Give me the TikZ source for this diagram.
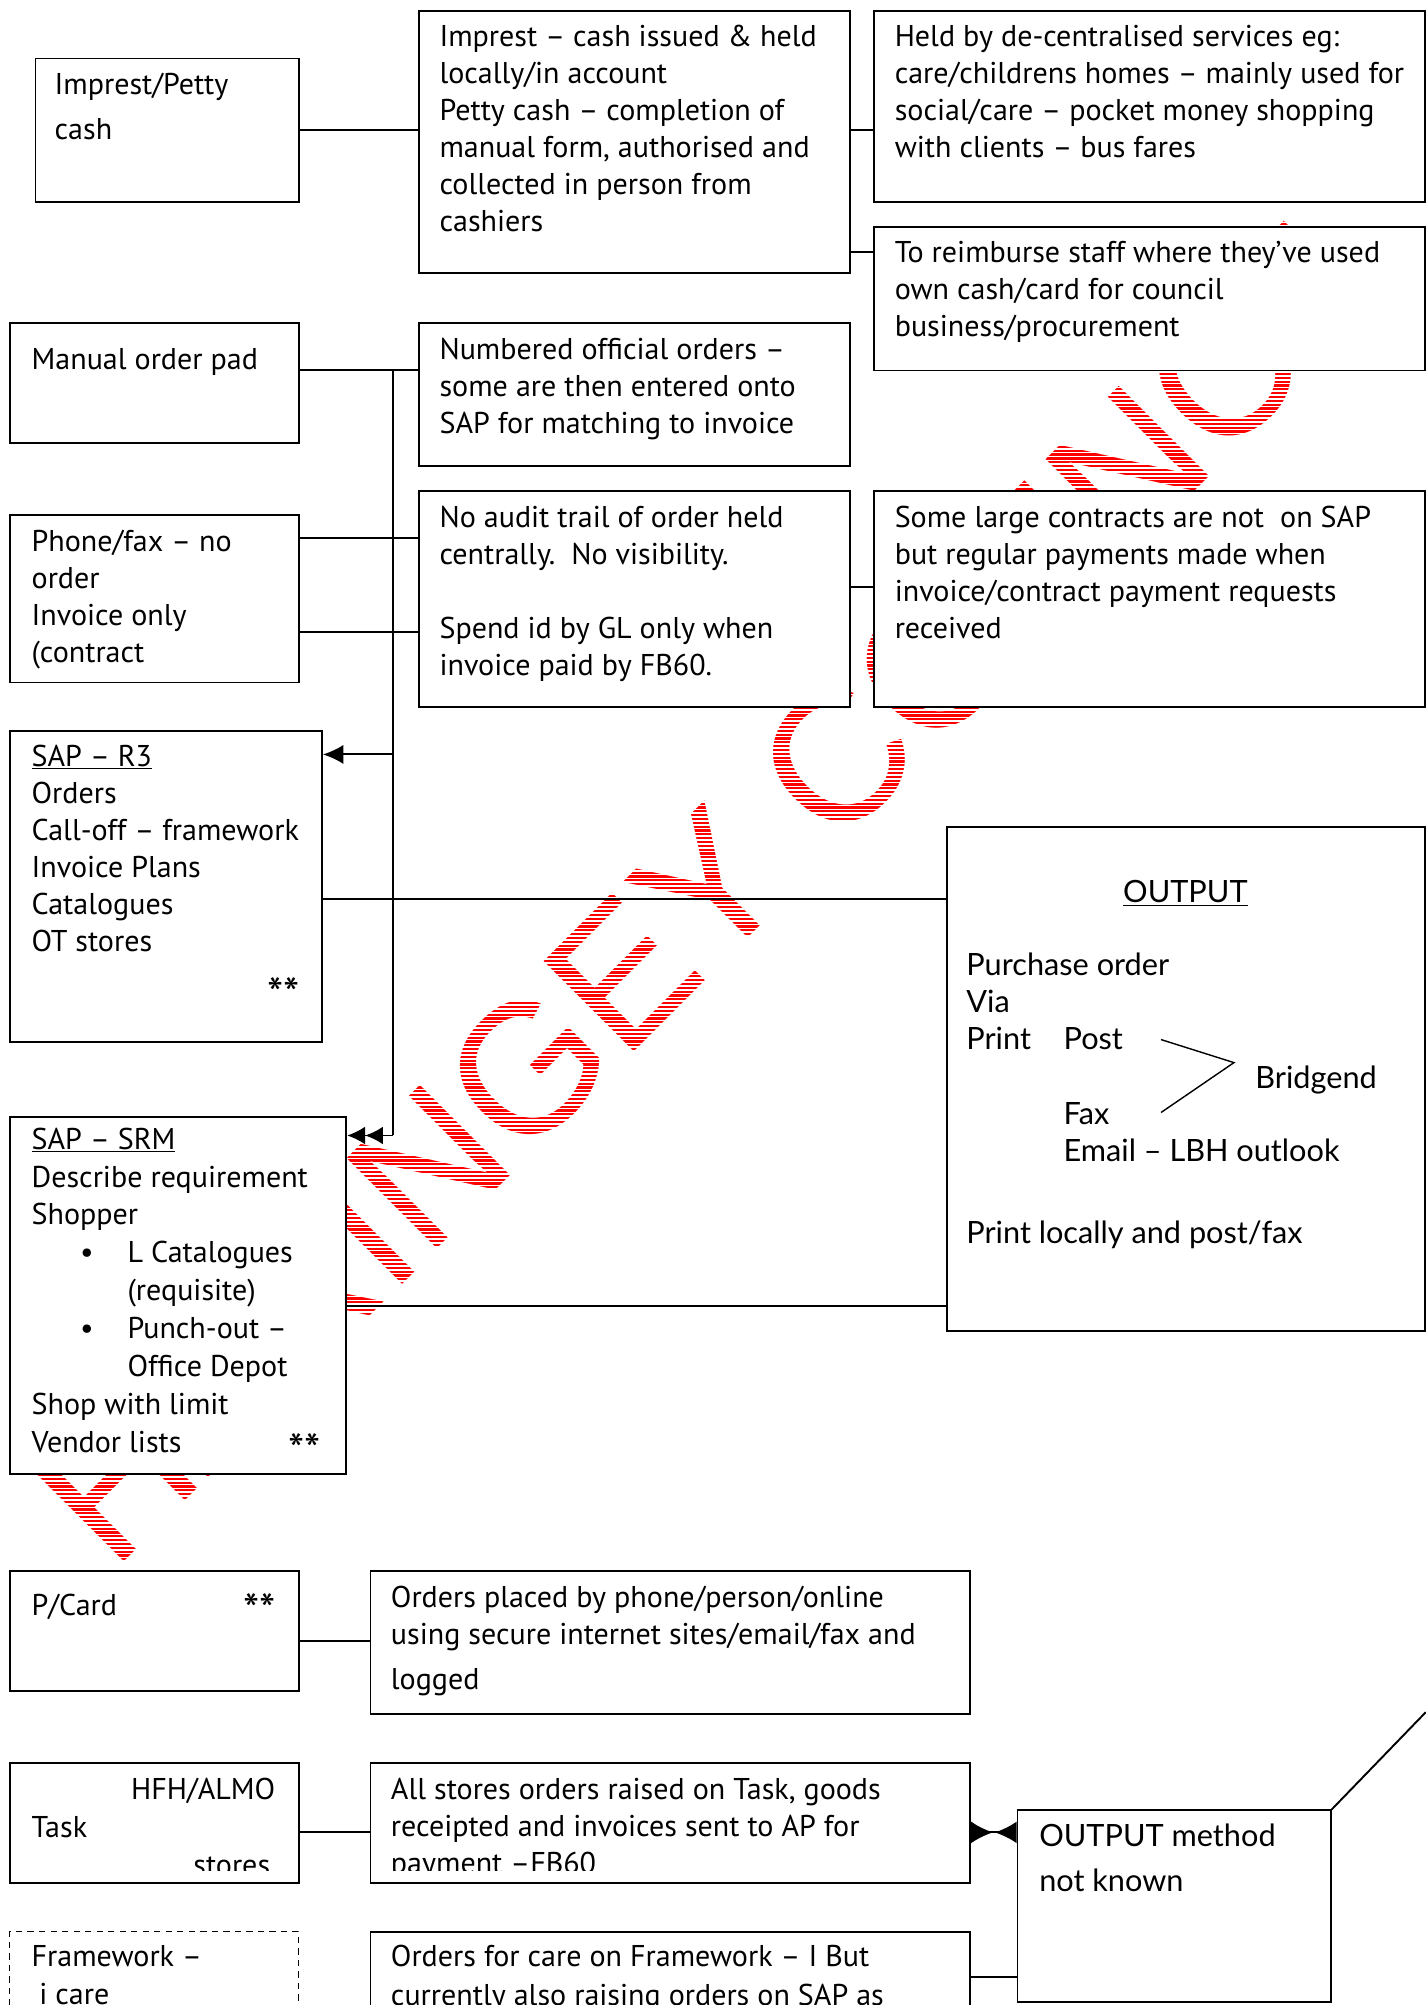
\documentclass[tikz,border=0pt]{standalone}
\usepackage{fontspec}
\setmainfont{PT Sans}
\newfontfamily\largo{Lato}
\newfontfamily\timbro{Liberation Sans}
\usetikzlibrary{
	positioning,    % posizionamento relativo
	arrows.meta,    % punte Latex
	calc
}

\begin{document}
\begin{tikzpicture}[x=1pt, y=-1pt, line width=1.5pt,
		box/.style={draw, fill=white, anchor=north west, inner sep=0pt},
		txt/.style={anchor=north west, inner sep=0pt, align=left, font=\fontsize{23.5}{29}\selectfont, execute at begin node=\strut},
		txtw/.style={txt, font=\largo\fontsize{24}{29}\selectfont},
		stelle/.style={anchor=base, inner sep=0pt, font=\fontsize{23.5}{29}\selectfont},
		asterischi/.style={anchor=base, inner sep=0pt, font=\fontsize{36}{36}\selectfont},
		timbro/.style={font=\timbro\fontsize{145}{145}\selectfont, text=red, rotate=45, inner sep=0pt}]
		\useasboundingbox (0,0) rectangle (1115,1568);
		
		% --- Filigrana (tratteggio con righe bianche) ---
		\node[timbro] (filigrana) at (566,682) {HARINGEY COUNCIL};
		\foreach \y in {0,3,...,1569}
			\draw[white, line width=1.3pt] (0,\y) -- (1115,\y);
		
		% --- Riquadri ---
		\node[box, minimum width=206, minimum height=112] (impcash) at (27,45) {};
		\node[box, minimum width=337, minimum height=205] (imprtxt) at (327,8) {};
		\node[box, minimum width=431, minimum height=149] (held) at (683,8) {};
		\node[box, minimum width=431, minimum height=112] (reimb) at (683,177) {};
		\node[box, minimum width=226, minimum height=94] (manual) at (7,252) {};
		\node[box, minimum width=337, minimum height=112] (numbered) at (327,252) {};
		\node[box, minimum width=226, minimum height=131] (phone) at (7,402) {};
		\node[box, minimum width=337, minimum height=169] (noaudit) at (327,383) {};
		\node[box, minimum width=431, minimum height=169] (large) at (683,383) {};
		\node[box, minimum width=244, minimum height=243] (r3) at (7,571) {};
		\node[box, minimum width=374, minimum height=394] (output) at (740,646) {};
		\node[box, minimum width=263, minimum height=279] (srm) at (7,873) {};
		\node[box, minimum width=226, minimum height=94] (pcard) at (7,1228) {};
		\node[box, minimum width=469, minimum height=112] (placed) at (289,1228) {};
		\node[box, minimum width=226, minimum height=94] (task) at (7,1378) {};
		\node[box, minimum width=469, minimum height=94] (stores) at (289,1378) {};
		\node[box, line width=1pt, dash pattern=on 5pt off 4pt, minimum width=226, minimum height=80] (frame) at (7,1510) {};
		\node[box, minimum width=469, minimum height=80] (care) at (289,1510) {};
		\node[box, minimum width=245, minimum height=150] (outmeth) at (795,1415) {};
		
		% --- Collegamenti ---
		\draw (impcash.east) -- (impcash.east -| imprtxt.west);
		\coordinate (i1) at (imprtxt.east |- impcash.east);
		\draw (i1) -- (i1 -| held.west);
		\coordinate (i2) at ([yshift=-20pt]reimb.north west);
		\draw (i2) -- (i2 -| imprtxt.east);
		
		% linea verticale comune
		\coordinate (bustop) at (307,289);
		\coordinate (busend) at (307,888);
		\draw (bustop -| manual.east) -- (bustop -| numbered.west);
		\draw (bustop) -- (busend);
		\coordinate (p1) at ([yshift=-19pt]phone.north east);
		\coordinate (p2) at ([yshift=-92pt]phone.north east);
		\draw (p1) -- (p1 -| noaudit.west);
		\draw (p2) -- (p2 -| noaudit.west);
		\coordinate (n1) at ([yshift=9pt]noaudit.east);
		\draw (n1) -- (n1 -| large.west);
		
		% frecce verso SAP
		\coordinate (r3in) at ([yshift=-19pt]r3.north east);
		\draw[-{Latex[length=16pt,width=15pt]}] (r3in -| bustop) -- (r3in);
		\draw[-{Latex[length=14pt,width=14pt] Latex[length=14pt,width=14pt]}] (busend) -- (busend -| srm.east);
		\coordinate (r3out) at ([yshift=-132pt]r3.north east);
		\draw (r3out) -- (r3out -| output.west);
		\coordinate (srmout) at ([yshift=-148pt]srm.north east);
		\draw (srmout) -- (srmout -| output.west);
		
		% parte bassa
		\coordinate (pc) at ([yshift=-55pt]pcard.north east);
		\draw (pc) -- (pc -| placed.west);
		\coordinate (tk) at ([yshift=-55pt]task.north east);
		\draw (tk) -- (tk -| stores.west);
		\draw[{Latex[reversed,length=17pt,width=17pt]}-{Latex[reversed,length=17pt,width=17pt]}] (tk -| stores.east) -- (tk -| outmeth.west);
		\coordinate (cr) at ([yshift=-36pt]care.north east);
		\draw (cr) -- (cr -| outmeth.west);
		\coordinate (diag) at (1115,1339);
		\draw (outmeth.north east) -- (diag);
		
		% parentesi Post/Fax
		\draw[line width=1.1pt] (908,813) -- (965,831) -- (908,870);
		
		% --- Testi ---
		\node[txt] (impcash-t) at (42,56.7) {Imprest/Petty\\[6pt]cash};
		\node[txt] (imprtxt-t) at (343,18.7) {Imprest – cash issued \& held\\locally/in account\\Petty cash – completion of\\manual form, authorised and\\collected in person from\\cashiers};
		\node[txt] (held-t) at (699,18.7) {Held by de-centralised services eg:\\care/childrens homes – mainly used for\\social/care – pocket money shopping\\with clients – bus fares};
		\node[txt] (reimb-t) at (699,187.7) {To reimburse staff where they’ve used\\own cash/card for council\\business/procurement};
		\node[txt] (manual-t) at (24,267.7) {Manual order pad};
		\node[txt] (numbered-t) at (343,263.7) {Numbered official orders –\\some are then entered onto\\SAP for matching to invoice};
		\node[txt] (phone-t) at (24,413.7) {Phone/fax – no\\order\\Invoice only\\(contract};
		\node[txt] (noaudit-t) at (343,394.7) {No audit trail of order held\\centrally.\ \ No visibility.\\[29pt]Spend id by GL only when\\invoice paid by FB60.};
		\node[txt] (large-t) at (699,394.7) {Some large contracts are not\ \ on SAP\\but regular payments made when\\invoice/contract payment requests\\received};
		\node[txt] (r3-t) at (24,581.7) {\underline{SAP – R3}\\Orders\\Call-off – framework\\Invoice Plans\\Catalogues\\OT stores};
		\node[asterischi] (r3-s) at (222,790) {**};
		
		\node[stelle, font=\largo\fontsize{24}{29}\selectfont] (output-h) at (927,706) {\underline{OUTPUT}};
		\node[txtw] (output-t) at (755,744.7) {Purchase order\\Via\\\makebox[76pt][l]{Print}Post\\[29pt]\hspace*{76pt}Fax\\\hspace*{76pt}Email – LBH outlook\\[35pt]Print locally and post/fax};
		\node[txtw, anchor=base west] (bridgend) at (981,851) {Bridgend};
		
		\node[txt, font=\fontsize{23.5}{29.6}\selectfont] (srm-t) at (24,881.3) {\underline{SAP – SRM}\\Describe requirement\\Shopper\\\hspace*{38pt}\makebox[37pt][l]{\textbullet}L Catalogues\\\hspace*{75pt}(requisite)\\\hspace*{38pt}\makebox[37pt][l]{\textbullet}Punch-out –\\\hspace*{75pt}Office Depot\\Shop with limit\\Vendor lists};
		\node[asterischi] (srm-s) at (238,1147) {**};
		
		\node[txt] (pcard-t) at (24,1242.7) {P/Card};
		\node[asterischi] (pcard-s) at (203,1272) {**};
		\node[txt] (placed-t) at (305,1239.7) {Orders placed by phone/person/online\\using secure internet sites/email/fax and\\[6pt]logged};
		
		\begin{scope}
			\clip (0,1370) rectangle (760,1463);
			\node[stelle, anchor=base east] (task-a) at (216,1407) {HFH/ALMO};
			\node[stelle, anchor=base west] (task-b) at (24,1437) {Task};
			\node[stelle, anchor=base east] (task-c) at (212,1467) {stores};
			\node[txt] (stores-t) at (305,1389.7) {All stores orders raised on Task, goods\\receipted and invoices sent to AP for\\payment –FB60};
		\end{scope}
		
		\node[txt] (frame-t) at (24,1520.7) {Framework –\\[1pt]\hspace*{6pt}i care};
		\node[txt] (care-t) at (305,1520.7) {Orders for care on Framework – I But\\[1pt]currently also raising orders on SAP as};
		\node[txtw] (outmeth-t) at (812,1425.7) {OUTPUT method\\[6pt]not known};
	\end{tikzpicture}
\end{document}
